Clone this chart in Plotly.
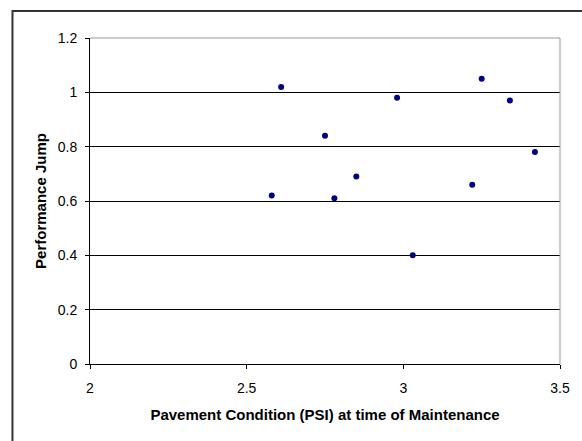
import plotly.graph_objects as go

# pavement condition at time of maintenance vs. performance jump
psi = [2.58, 2.61, 2.75, 2.78, 2.85, 2.98, 3.03, 3.22, 3.25, 3.34, 3.42]
jump = [0.62, 1.02, 0.84, 0.61, 0.69, 0.98, 0.40, 0.66, 1.05, 0.97, 0.78]

x_ticks = [2, 2.5, 3, 3.5]
y_ticks = [0, 0.2, 0.4, 0.6, 0.8, 1, 1.2]

fig = go.Figure(
    go.Scatter(
        x=psi,
        y=jump,
        mode="markers",
        marker=dict(color="#000080", size=6),
        showlegend=False,
        cliponaxis=False,
    )
)

axis_font = dict(family="Liberation Sans, Arial, sans-serif", size=14, color="#000")
title_font = dict(family="Liberation Sans, Arial, sans-serif", size=15, color="#000")

fig.update_layout(
    width=582,
    height=441,
    margin=dict(l=90, r=13, t=38, b=77),
    paper_bgcolor="white",
    plot_bgcolor="white",
    font=axis_font,
    xaxis=dict(
        range=[2, 3.5],
        tickvals=x_ticks,
        ticktext=[str(v) for v in x_ticks],
        showgrid=False,
        zeroline=False,
        showline=True,
        linecolor="#000",
        linewidth=1,
        ticks="outside",
        ticklen=4,
        tickcolor="#000",
        ticklabelstandoff=7,
        title=dict(text="<b>Pavement Condition (PSI) at time of Maintenance</b>", font=title_font, standoff=14),
    ),
    yaxis=dict(
        range=[0, 1.2],
        tickvals=y_ticks,
        ticktext=[str(v) for v in y_ticks],
        showgrid=True,
        gridcolor="#000",
        gridwidth=1,
        zeroline=False,
        showline=True,
        linecolor="#000",
        linewidth=1,
        ticks="outside",
        ticklen=4,
        tickcolor="#000",
        ticklabelstandoff=5,
        title=dict(text="<b>Performance Jump</b>", font=title_font, standoff=7),
    ),
)

# grey plot-area border on the top and right
fig.add_shape(type="line", xref="paper", yref="paper", x0=0, x1=1, y0=1, y1=1,
              line=dict(color="#999", width=1))
fig.add_shape(type="line", xref="paper", yref="paper", x0=1, x1=1, y0=0, y1=1,
              line=dict(color="#999", width=1))

# outer chart frame (runs off the right and bottom of the picture)
fig.add_shape(type="rect", xref="paper", yref="paper",
              x0=-79 / 479, x1=1.2, y0=-0.5, y1=1 + 27 / 326,
              line=dict(color="#333", width=2))

# drop the browser's default body margin so the figure sits at the page origin
fig.write_html(
    "out.html",
    config={"displayModeBar": False},
    post_script="document.body.style.margin='0';",
)
